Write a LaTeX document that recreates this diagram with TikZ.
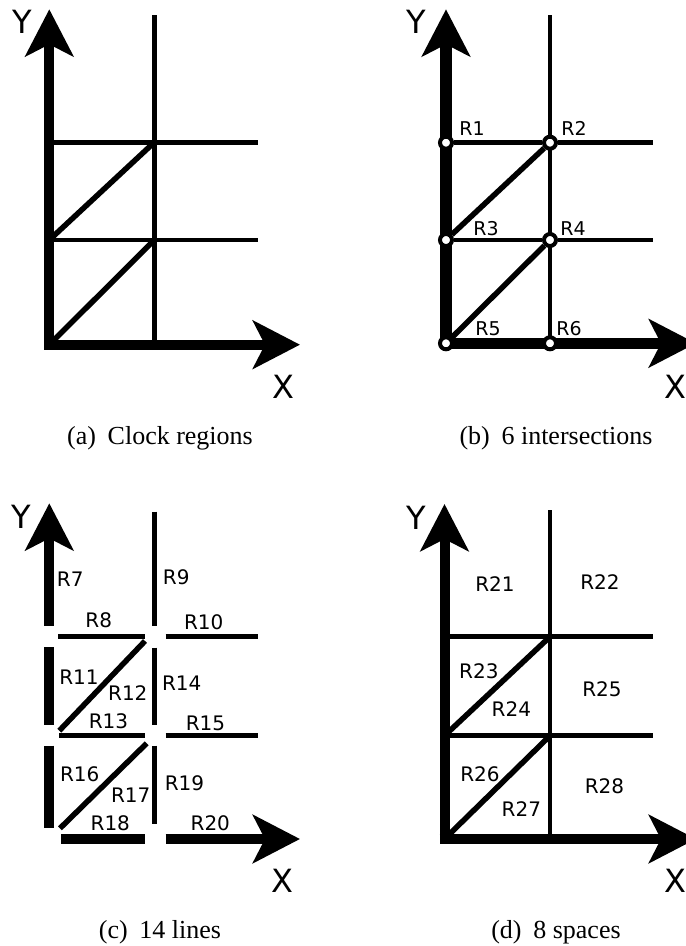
\documentclass[tikz,border=0pt]{standalone}
\usepackage{fontspec}
\setmainfont{Liberation Serif}
\newfontfamily\labfont{DejaVu Sans}
\usetikzlibrary{arrows.meta}

\tikzset{
  axisline/.style={line width=10pt, line join=miter},
  axislineb/.style={line width=11.5pt, line join=miter},
  bigtip/.style={-{Stealth[length=47pt,width=48pt,inset=12pt]}},
  gridline/.style={line width=4.5pt},
  diagline/.style={line width=5.5pt},
  thickseg/.style={line width=10pt},
  axlab/.style={font=\labfont\fontsize{32}{36}\selectfont, inner sep=0pt},
  reglab/.style={font=\labfont\fontsize{20}{24}\selectfont, inner sep=0pt},
  reglabb/.style={font=\labfont\fontsize{19}{23}\selectfont, inner sep=0pt},
  captext/.style={font=\fontsize{26}{30}\selectfont, inner sep=0pt, anchor=base},
  xdot/.style={circle, draw, fill=white, line width=4pt, minimum size=12pt, inner sep=0pt}
}

\begin{document}
\begin{tikzpicture}[x=1pt,y=-1pt]
\useasboundingbox (0,0) rectangle (686,946);

% ---------------- (a) clock regions ----------------
\coordinate (aO) at (49.3,344.7);
\coordinate (aYt) at (49.3,9.3);
\coordinate (aXt) at (300,344.7);
\coordinate (aVt) at (154.3,15);
\coordinate (aVb) at (154.3,344.7);
\coordinate (aH1l) at (49.3,142.3);
\coordinate (aH1r) at (258.3,142.3);
\coordinate (aH2l) at (49.3,240);
\coordinate (aH2r) at (258.3,240);
\coordinate (aM1) at (154.3,142.3);
\coordinate (aM2) at (154.3,240);
\draw[gridline] (aVt) -- (aVb);
\draw[gridline] (aH1l) -- (aH1r);
\draw[gridline] (aH2l) -- (aH2r);
\draw[diagline] (aH2l) -- (aM1);
\draw[diagline] (aO) -- (aM2);
\draw[axisline,bigtip] (aO) -- (aYt);
\draw[axisline,bigtip] ([xshift=-5pt]aO) -- (aXt);
\node[axlab] (aY) at (22,21.5) {Y};
\node[axlab] (aX) at (283,386.5) {X};
\node[captext] (acap) at (160,444) {(a)\hspace{0.45em}Clock regions};

% ---------------- (b) 6 intersections ----------------
\coordinate (bO) at (446,343.3);
\coordinate (bYt) at (446,9.3);
\coordinate (bXt) at (696,343.3);
\coordinate (bVt) at (550,15);
\coordinate (bH1r) at (653.3,142.7);
\coordinate (bH2r) at (653.3,240);
\draw[gridline] (bVt) -- (550,343.3);
\draw[axislineb,bigtip] ([xshift=-5.75pt]bO) -- (bXt);
\draw[axislineb,bigtip] (bO) -- (bYt);
\node[xdot] (R1p) at (446,142.7) {};
\node[xdot] (R2p) at (550,142.7) {};
\node[xdot] (R3p) at (446,240) {};
\node[xdot] (R4p) at (550,240) {};
\node[xdot] (R5p) at (446,343.3) {};
\node[xdot] (R6p) at (550,343.3) {};
\draw[gridline] (R1p) -- (R2p);
\draw[gridline] (R2p) -- (bH1r);
\draw[gridline] (R3p) -- (R4p);
\draw[gridline] (R4p) -- (bH2r);
\draw[gridline] (R2p) -- (R4p);
\draw[gridline] (R4p) -- (R6p);
\draw[diagline] (R3p) -- (R2p);
\draw[diagline] (R5p) -- (R4p);
\node[axlab] (bY) at (416.7,21.5) {Y};
\node[axlab] (bX) at (675.5,386.5) {X};
\node[reglabb] at (472,128.3) {R1};
\node[reglabb] at (574,128.3) {R2};
\node[reglabb] at (486,228.3) {R3};
\node[reglabb] at (573,228.3) {R4};
\node[reglabb] at (488,329) {R5};
\node[reglabb] at (569,329) {R6};
\node[captext] (bcap) at (556,444) {(b)\hspace{0.45em}6 intersections};

% ---------------- (c) 14 lines ----------------
\coordinate (cYt) at (49.3,503.3);
\coordinate (cXt) at (300,839);
% axis pieces
\draw[thickseg,bigtip] (49.3,625.7) -- (cYt);
\draw[thickseg] (49.3,647.3) -- (49.3,725);
\draw[thickseg] (49.3,745.7) -- (49.3,828.3);
\draw[thickseg] (61,839) -- (145,839);
\draw[thickseg,bigtip] (165.7,839) -- (cXt);
% vertical pieces
\draw[gridline] (154.3,511.7) -- (154.3,626);
\draw[gridline] (154.3,647.7) -- (154.3,725);
\draw[gridline] (154.3,745.7) -- (154.3,824);
% horizontal pieces
\draw[gridline] (58.3,636.7) -- (145,636.7);
\draw[gridline] (165.7,636.7) -- (258.3,636.7);
\draw[gridline] (59.3,735.7) -- (145,735.7);
\draw[gridline] (165.7,735.7) -- (258.3,735.7);
% diagonal pieces
\draw[diagline] (59.3,730.7) -- (145,641);
\draw[diagline] (60,828.3) -- (146.7,743.3);
\node[axlab] (cY) at (21.7,516.7) {Y};
\node[axlab] (cX) at (282.5,881) {X};
\node[reglab] at (70.3,579) {R7};
\node[reglab] at (98.8,620.3) {R8};
\node[reglab] at (176.3,577.5) {R9};
\node[reglab] at (203.7,622.5) {R10};
\node[reglab] at (79,677.5) {R11};
\node[reglab] at (127.8,693) {R12};
\node[reglab] at (108.5,721.3) {R13};
\node[reglab] at (181.7,683) {R14};
\node[reglab] at (205.5,723) {R15};
\node[reglab] at (79.7,773.8) {R16};
\node[reglab] at (130.7,794.7) {R17};
\node[reglab] at (110.3,823) {R18};
\node[reglab] at (184.5,782.8) {R19};
\node[reglab] at (210.3,823) {R20};
\node[captext] (ccap) at (160,938.5) {(c)\hspace{0.45em}14 lines};

% ---------------- (d) 8 spaces ----------------
\coordinate (dO) at (444.5,839);
\coordinate (dYt) at (444.5,504);
\coordinate (dXt) at (696,839);
\coordinate (dVt) at (550,510);
\coordinate (dVb) at (550,839);
\coordinate (dH1l) at (444.5,636.7);
\coordinate (dH1r) at (653.3,636.7);
\coordinate (dH2l) at (444.5,735.7);
\coordinate (dH2r) at (653.3,735.7);
\coordinate (dM1) at (550,636.7);
\coordinate (dM2) at (550,735.7);
\draw[gridline] (dVt) -- (dVb);
\draw[gridline] (dH1l) -- (dH1r);
\draw[gridline] (dH2l) -- (dH2r);
\draw[diagline] (dH2l) -- (dM1);
\draw[diagline] (dO) -- (dM2);
\draw[axisline,bigtip] (dO) -- (dYt);
\draw[axisline,bigtip] ([xshift=-5pt]dO) -- (dXt);
\node[axlab] (dY) at (416.7,517.5) {Y};
\node[axlab] (dX) at (675.5,881) {X};
\node[reglab] at (495,583.8) {R21};
\node[reglab] at (600,582.5) {R22};
\node[reglab] at (478.8,671.2) {R23};
\node[reglab] at (511.3,709.5) {R24};
\node[reglab] at (602,689.2) {R25};
\node[reglab] at (480,774.2) {R26};
\node[reglab] at (521.3,809.5) {R27};
\node[reglab] at (604.5,786.2) {R28};
\node[captext] (dcap) at (556,938.5) {(d)\hspace{0.45em}8 spaces};
\end{tikzpicture}
\end{document}
